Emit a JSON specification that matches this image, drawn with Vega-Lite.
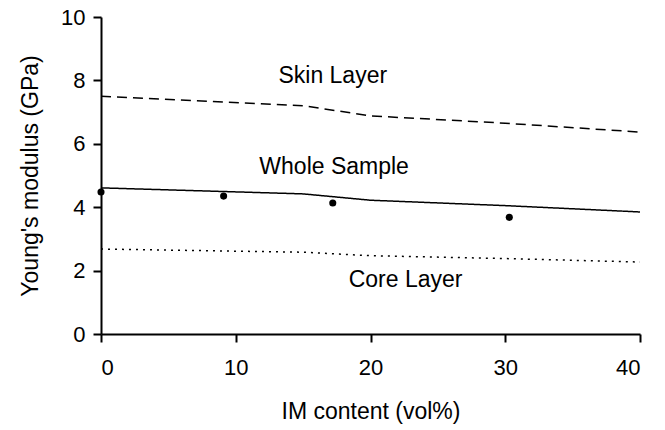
{
  "$schema": "https://vega.github.io/schema/vega-lite/v6.json",
  "width": 539,
  "height": 317,
  "autosize": "none",
  "padding": {"left": 101, "top": 17, "right": 25, "bottom": 96},
  "background": "white",
  "config": {
    "view": {"stroke": null},
    "font": "Liberation Sans",
    "axis": {
      "grid": false,
      "domainColor": "black",
      "domainWidth": 2,
      "tickColor": "black",
      "tickWidth": 2,
      "tickSize": 8,
      "labelColor": "black",
      "labelFontSize": 22,
      "labelFont": "Liberation Sans",
      "titleColor": "black",
      "titleFontSize": 23,
      "titleFont": "Liberation Sans",
      "titleFontWeight": "normal"
    }
  },
  "datasets": {
    "lines": [
      {"series": "Skin Layer", "x": 0, "y": 7.5},
      {"series": "Skin Layer", "x": 15, "y": 7.2},
      {"series": "Skin Layer", "x": 20, "y": 6.88},
      {"series": "Skin Layer", "x": 30, "y": 6.65},
      {"series": "Skin Layer", "x": 40, "y": 6.37},
      {"series": "Whole Sample", "x": 0, "y": 4.61},
      {"series": "Whole Sample", "x": 15, "y": 4.42},
      {"series": "Whole Sample", "x": 20, "y": 4.22},
      {"series": "Whole Sample", "x": 30, "y": 4.05},
      {"series": "Whole Sample", "x": 40, "y": 3.85},
      {"series": "Core Layer", "x": 0, "y": 2.68},
      {"series": "Core Layer", "x": 15, "y": 2.58},
      {"series": "Core Layer", "x": 20, "y": 2.47},
      {"series": "Core Layer", "x": 30, "y": 2.38},
      {"series": "Core Layer", "x": 40, "y": 2.27}
    ],
    "points": [
      {"x": 0, "y": 4.48},
      {"x": 9.1, "y": 4.35},
      {"x": 17.2, "y": 4.13},
      {"x": 30.3, "y": 3.68}
    ],
    "labels": [
      {"text": "Skin Layer", "x": 17.2, "y": 8.15},
      {"text": "Whole Sample", "x": 17.3, "y": 5.27},
      {"text": "Core Layer", "x": 22.6, "y": 1.7}
    ]
  },
  "layer": [
    {
      "data": {"name": "lines"},
      "mark": {"type": "line", "color": "black", "strokeWidth": 1.5},
      "encoding": {
        "x": {"field": "x", "type": "quantitative", "scale": {"domain": [0, 40]},
              "axis": {"values": [0, 10, 20, 30, 40], "title": "IM content (vol%)", "labelPadding": 15, "titlePadding": 22}},
        "y": {"field": "y", "type": "quantitative", "scale": {"domain": [0, 10]},
              "axis": {"values": [0, 2, 4, 6, 8, 10], "title": "Young's modulus (GPa)", "labelPadding": 8, "titlePadding": 18}},
        "detail": {"field": "series"},
        "strokeDash": {"field": "series", "type": "nominal",
                       "scale": {"domain": ["Skin Layer", "Whole Sample", "Core Layer"], "range": [[10, 6], [1, 0], [2, 5]]},
                       "legend": null}
      }
    },
    {
      "data": {"name": "points"},
      "mark": {"type": "circle", "color": "black", "opacity": 1, "size": 50},
      "encoding": {
        "x": {"field": "x", "type": "quantitative"},
        "y": {"field": "y", "type": "quantitative"}
      }
    },
    {
      "data": {"name": "labels"},
      "mark": {"type": "text", "fontSize": 23, "color": "black", "align": "center", "baseline": "middle"},
      "encoding": {
        "x": {"field": "x", "type": "quantitative"},
        "y": {"field": "y", "type": "quantitative"},
        "text": {"field": "text"}
      }
    }
  ]
}
